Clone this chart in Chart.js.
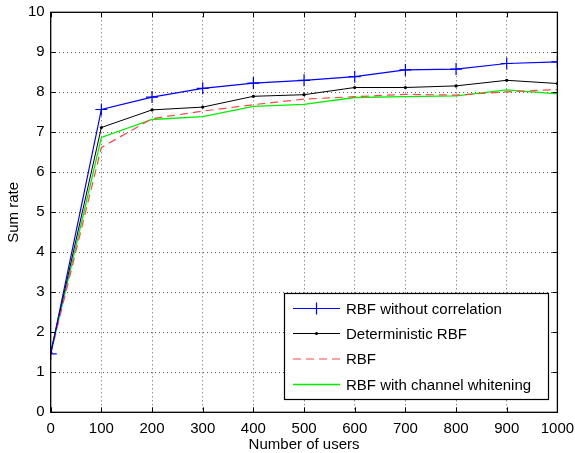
<!DOCTYPE html>
<html><head><meta charset="utf-8">
<script src="https://cdn.jsdelivr.net/npm/chart.js@4.4.0/dist/chart.umd.min.js"></script>
<style>html,body{margin:0;padding:0;background:#fff}#wrap{width:575px;height:453px;position:relative}</style>
</head><body><div id="wrap"><canvas id="c"></canvas></div>
<script>
const users = [0,100,200,300,400,500,600,700,800,900,1000];
const rbfNoCorr = [1.46,7.57,7.88,8.10,8.23,8.30,8.39,8.56,8.58,8.72,8.76];
const detRBF    = [1.50,7.12,7.56,7.63,7.90,7.94,8.12,8.12,8.16,8.30,8.22];
const rbf       = [1.46,6.62,7.34,7.53,7.69,7.83,7.89,7.95,7.93,8.01,8.07];
const rbfWhite  = [1.46,6.87,7.32,7.39,7.65,7.70,7.87,7.89,7.91,8.06,7.96];
const seriesLabels = ['RBF without correlation','Deterministic RBF','RBF','RBF with channel whitening'];
const xTicks = [0,100,200,300,400,500,600,700,800,900,1000];
const yTicks = [0,1,2,3,4,5,6,7,8,9,10];

const FONT = 'Liberation Sans, Arial, Helvetica, sans-serif';
function pts(arr){ return users.map((u,i)=>({x:u,y:arr[i]})); }

const boxPlugin = {
  id:'box',
  afterDraw(chart){
    const ctx = chart.ctx, a = chart.chartArea, xs = chart.scales.x, ys = chart.scales.y;
    ctx.save();
    ctx.strokeStyle = '#000'; ctx.lineWidth = 1;
    ctx.beginPath();
    const tl = 5;
    xTicks.forEach(v=>{
      const px = Math.round(xs.getPixelForValue(v))+0.5;
      ctx.moveTo(px,a.bottom); ctx.lineTo(px,a.bottom-tl);
      ctx.moveTo(px,a.top); ctx.lineTo(px,a.top+tl);
    });
    yTicks.forEach(v=>{
      const py = Math.round(ys.getPixelForValue(v))+0.5;
      ctx.moveTo(a.left,py); ctx.lineTo(a.left+tl,py);
      ctx.moveTo(a.right,py); ctx.lineTo(a.right-tl,py);
    });
    ctx.stroke();
    ctx.lineWidth = 1.3;
    ctx.strokeRect(a.left, a.top, a.right-a.left, a.bottom-a.top);
    // legend
    const L = 284, T = 293, R = 548, B = 399;
    ctx.fillStyle = '#fff'; ctx.fillRect(L,T,R-L,B-T);
    ctx.lineWidth = 1.2; ctx.strokeStyle = '#000'; ctx.strokeRect(L+0.5,T+0.5,R-L,B-T);
    const rows = [308.5,333.5,359,384.5];
    ctx.font = '15px ' + FONT; ctx.textBaseline = 'middle'; ctx.textAlign = 'left';
    chart.data.datasets.forEach((ds,i)=>{
      const y = rows[i];
      ctx.save();
      ctx.strokeStyle = ds.borderColor; ctx.lineWidth = ds.borderWidth;
      ctx.setLineDash(ds.borderDash || []);
      ctx.beginPath(); ctx.moveTo(293,y); ctx.lineTo(340,y); ctx.stroke();
      ctx.setLineDash([]);
      if (ds.pointStyle === 'cross'){
        ctx.beginPath(); ctx.moveTo(316.5-6,y); ctx.lineTo(316.5+6,y);
        ctx.moveTo(316.5,y-6); ctx.lineTo(316.5,y+6); ctx.stroke();
      } else if (ds.pointRadius > 0){
        ctx.fillStyle = ds.borderColor; ctx.beginPath(); ctx.arc(316.5,y,1.6,0,Math.PI*2); ctx.fill();
      }
      ctx.restore();
      ctx.fillStyle = '#000';
      ctx.fillText(ds.label, 346, y+1);
    });
    ctx.restore();
  }
};

new Chart(document.getElementById('c'), {
  type:'line',
  data:{ datasets:[
    {label:seriesLabels[0], data:pts(rbfNoCorr), borderColor:'#0000ff', backgroundColor:'#0000ff', borderWidth:1.2, pointStyle:'cross', pointRadius:6, pointBorderWidth:1.2, pointBorderColor:'#0000ff'},
    {label:seriesLabels[1], data:pts(detRBF), borderColor:'#000000', backgroundColor:'#000000', borderWidth:1, pointStyle:'circle', pointRadius:1.6, pointBorderWidth:0},
    {label:seriesLabels[2], data:pts(rbf), borderColor:'#ff4747', borderWidth:1.2, borderDash:[8,5], pointRadius:0},
    {label:seriesLabels[3], data:pts(rbfWhite), borderColor:'#00f000', borderWidth:1.3, pointRadius:0}
  ]},
  options:{
    responsive:true, maintainAspectRatio:false, animation:false,
    layout:{padding:{top:12.3,right:17.6,left:0,bottom:0}},
    plugins:{legend:{display:false}, tooltip:{enabled:false}},
    elements:{line:{tension:0}},
    scales:{
      x:{type:'linear', min:0, max:1000, afterBuildTicks(s){ s.ticks = xTicks.map(v=>({value:v})); },
        afterFit(s){ s.height = 40.7; s.paddingLeft = 0; s.paddingRight = 0; },
        grid:{color:'#333', lineWidth:0.8, drawTicks:false},
        border:{display:false, dash:[1,3]},
        ticks:{color:'#000', font:{family:FONT,size:15}, padding:7.5, maxRotation:0, autoSkip:false, callback:(v)=>String(v)},
        title:{display:true, text:'Number of users', color:'#000', font:{family:FONT,size:15,lineHeight:1}, padding:{top:0,bottom:1}}
      },
      y:{type:'linear', min:0, max:10, afterBuildTicks(s){ s.ticks = yTicks.map(v=>({value:v})); },
        afterFit(s){ s.width = 50.7; s.paddingTop = 0; s.paddingBottom = 0; },
        grid:{color:'#333', lineWidth:0.8, drawTicks:false},
        border:{display:false, dash:[1,3]},
        ticks:{color:'#000', font:{family:FONT,size:15}, padding:6, autoSkip:false, callback:(v)=>String(v)},
        title:{display:true, text:'Sum rate', color:'#000', font:{family:FONT,size:15,lineHeight:1}, padding:{top:6,bottom:0}}
      }
    }
  },
  plugins:[boxPlugin]
});
</script></body></html>
